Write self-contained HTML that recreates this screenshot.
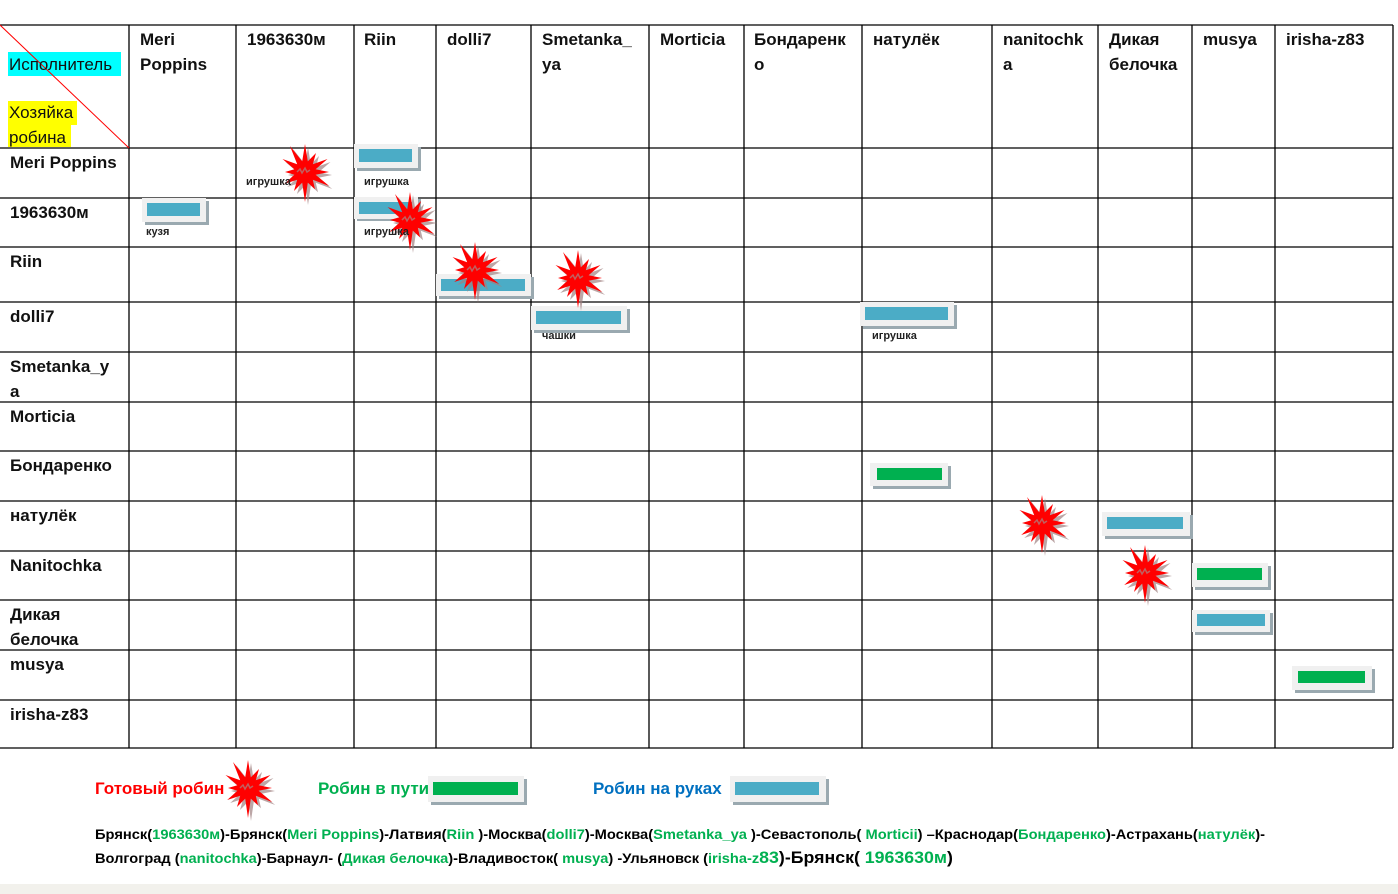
<!DOCTYPE html>
<html><head><meta charset="utf-8"><style>
body{margin:0;width:1398px;height:894px;background:#fff;overflow:hidden;position:relative;font-family:"Liberation Sans",sans-serif}
.t{position:absolute;font-weight:bold;font-size:17px;line-height:25px;color:#111}
.s{position:absolute;font-weight:bold;font-size:11px;color:#222}
</style></head><body>
<div style="position:absolute;left:0;top:884px;width:1398px;height:10px;background:#f2f1ec"></div>
<svg width="1398" height="894" style="position:absolute;left:0;top:0">
<defs>
<g id="st"><polygon transform="translate(3,3)" fill="#a08080" opacity="0.7" points="0,-28 2.8,-10.6 11,-19 7.8,-7.8 22.5,-13 10.6,-2.8 24,0 10.6,2.8 24.2,14 7.8,7.8 10,17.3 2.8,10.6 0,30 -2.8,10.6 -11,19 -7.8,7.8 -20.8,12 -10.6,2.8 -20,0 -10.6,-2.8 -22.5,-13 -7.8,-7.8 -15,-26 -2.8,-10.6"/><polygon fill="#ff0000" points="0,-28 2.8,-10.6 11,-19 7.8,-7.8 22.5,-13 10.6,-2.8 24,0 10.6,2.8 24.2,14 7.8,7.8 10,17.3 2.8,10.6 0,30 -2.8,10.6 -11,19 -7.8,7.8 -20.8,12 -10.6,2.8 -20,0 -10.6,-2.8 -22.5,-13 -7.8,-7.8 -15,-26 -2.8,-10.6"/><path d="M-8,0 l3,-3 2,4 3,-5 2,4 3,-2" stroke="#c06060" fill="none" stroke-width="1.5"/></g>
</defs>
<g stroke="#000" stroke-width="1.3">
<line x1="0" y1="25" x2="1393" y2="25"/>
<line x1="0" y1="148" x2="1393" y2="148"/><line x1="0" y1="198" x2="1393" y2="198"/><line x1="0" y1="247" x2="1393" y2="247"/><line x1="0" y1="302" x2="1393" y2="302"/><line x1="0" y1="352" x2="1393" y2="352"/><line x1="0" y1="402" x2="1393" y2="402"/><line x1="0" y1="451" x2="1393" y2="451"/><line x1="0" y1="501" x2="1393" y2="501"/><line x1="0" y1="551" x2="1393" y2="551"/><line x1="0" y1="600" x2="1393" y2="600"/><line x1="0" y1="650" x2="1393" y2="650"/><line x1="0" y1="700" x2="1393" y2="700"/><line x1="0" y1="748" x2="1393" y2="748"/>
<line x1="129" y1="25" x2="129" y2="748"/><line x1="236" y1="25" x2="236" y2="748"/><line x1="354" y1="25" x2="354" y2="748"/><line x1="436" y1="25" x2="436" y2="748"/><line x1="531" y1="25" x2="531" y2="748"/><line x1="649" y1="25" x2="649" y2="748"/><line x1="744" y1="25" x2="744" y2="748"/><line x1="862" y1="25" x2="862" y2="748"/><line x1="992" y1="25" x2="992" y2="748"/><line x1="1098" y1="25" x2="1098" y2="748"/><line x1="1192" y1="25" x2="1192" y2="748"/><line x1="1275" y1="25" x2="1275" y2="748"/><line x1="1393" y1="25" x2="1393" y2="748"/>
</g>
<rect x="8" y="52" width="113" height="24" fill="#00ffff"/>
<rect x="8" y="101" width="69" height="24" fill="#ffff00"/><rect x="8" y="125" width="63" height="22" fill="#ffff00"/>
<line x1="0" y1="25" x2="129" y2="148" stroke="#ff0000" stroke-width="1"/>
<!-- bars -->
<g>
<rect x="357" y="147" width="64" height="24" fill="#9aa9b0"/><rect x="354" y="144" width="64" height="24" fill="#f0f0f0"/><rect x="359" y="149" width="53" height="13" fill="#4bacc6"/>
<rect x="145" y="201" width="64" height="24" fill="#9aa9b0"/><rect x="142" y="198" width="64" height="24" fill="#f0f0f0"/><rect x="147" y="203" width="53" height="13" fill="#4bacc6"/>
<rect x="357" y="199" width="64" height="22" fill="#9aa9b0"/><rect x="354" y="197" width="64" height="22" fill="#f0f0f0"/><rect x="359" y="202" width="53" height="12" fill="#4bacc6"/>
<rect x="439" y="277" width="95" height="22" fill="#9aa9b0"/><rect x="436" y="274" width="95" height="22" fill="#f0f0f0"/><rect x="441" y="279" width="84" height="12" fill="#4bacc6"/>
<rect x="534" y="309" width="96" height="24" fill="#9aa9b0"/><rect x="531" y="306" width="96" height="24" fill="#f0f0f0"/><rect x="536" y="311" width="85" height="13" fill="#4bacc6"/>
<rect x="863" y="305" width="94" height="24" fill="#9aa9b0"/><rect x="860" y="302" width="94" height="24" fill="#f0f0f0"/><rect x="865" y="307" width="83" height="13" fill="#4bacc6"/>
<rect x="873" y="466" width="78" height="23" fill="#9aa9b0"/><rect x="870" y="463" width="78" height="23" fill="#f0f0f0"/><rect x="877" y="468" width="65" height="12" fill="#00b050"/>
<rect x="1105" y="515" width="88" height="24" fill="#9aa9b0"/><rect x="1102" y="512" width="88" height="24" fill="#f0f0f0"/><rect x="1107" y="517" width="76" height="12" fill="#4bacc6"/>
<rect x="1195" y="566" width="76" height="24" fill="#9aa9b0"/><rect x="1192" y="563" width="76" height="24" fill="#f0f0f0"/><rect x="1197" y="568" width="65" height="12" fill="#00b050"/>
<rect x="1195" y="613" width="78" height="22" fill="#9aa9b0"/><rect x="1192" y="610" width="78" height="22" fill="#f0f0f0"/><rect x="1197" y="614" width="68" height="12" fill="#4bacc6"/>
<rect x="1295" y="669" width="80" height="24" fill="#9aa9b0"/><rect x="1292" y="666" width="80" height="24" fill="#f0f0f0"/><rect x="1298" y="671" width="67" height="12" fill="#00b050"/>
<rect x="431" y="779" width="96" height="26" fill="#9aa9b0"/><rect x="428" y="776" width="96" height="26" fill="#f0f0f0"/><rect x="433" y="782" width="85" height="13" fill="#00b050"/>
<rect x="733" y="779" width="96" height="26" fill="#9aa9b0"/><rect x="730" y="776" width="96" height="26" fill="#f0f0f0"/><rect x="735" y="782" width="84" height="13" fill="#4bacc6"/>
</g>
<use href="#st" x="305" y="172"/><use href="#st" x="410" y="220"/><use href="#st" x="475" y="270"/><use href="#st" x="578" y="278"/><use href="#st" x="1042" y="523"/><use href="#st" x="1145" y="573"/><use href="#st" x="248" y="788"/>
<g font-family="Liberation Sans,sans-serif" font-weight="bold" font-size="14">
<text x="95" y="839" textLength="1170" lengthAdjust="spacingAndGlyphs">Брянск(<tspan fill="#00b050">1963630м</tspan>)-Брянск(<tspan fill="#00b050">Meri Poppins</tspan>)-Латвия(<tspan fill="#00b050">Riin </tspan>)-Москва(<tspan fill="#00b050">dolli7</tspan>)-Москва(<tspan fill="#00b050">Smetanka_ya </tspan>)-Севастополь( <tspan fill="#00b050">Morticii</tspan>) –Краснодар(<tspan fill="#00b050">Бондаренко</tspan>)-Астрахань(<tspan fill="#00b050">натулёк</tspan>)-</text>
<text x="95" y="863" textLength="858" lengthAdjust="spacingAndGlyphs">Волгоград (<tspan fill="#00b050">nanitochka</tspan>)-Барнаул- (<tspan fill="#00b050">Дикая белочка</tspan>)-Владивосток( <tspan fill="#00b050">musya</tspan>) -Ульяновск (<tspan fill="#00b050">irisha-z<tspan font-size="17">83</tspan></tspan><tspan font-size="17">)-Брянск( <tspan fill="#00b050">1963630м</tspan>)</tspan></text>
</g>
</svg>
<div class="t" style="left:9px;top:52px;font-weight:normal">Исполнитель</div>
<div class="t" style="left:9px;top:100px;font-weight:normal">Хозяйка<br>робина</div>
<div class="t" style="left:140px;top:27px">Meri<br>Poppins</div>
<div class="t" style="left:247px;top:27px">1963630м</div>
<div class="t" style="left:364px;top:27px">Riin</div>
<div class="t" style="left:447px;top:27px">dolli7</div>
<div class="t" style="left:542px;top:27px">Smetanka_<br>ya</div>
<div class="t" style="left:660px;top:27px">Morticia</div>
<div class="t" style="left:754px;top:27px">Бондаренк<br>о</div>
<div class="t" style="left:873px;top:27px">натулёк</div>
<div class="t" style="left:1003px;top:27px">nanitochk<br>a</div>
<div class="t" style="left:1109px;top:27px">Дикая<br>белочка</div>
<div class="t" style="left:1203px;top:27px">musya</div>
<div class="t" style="left:1286px;top:27px">irisha-z83</div>
<div class="t" style="left:10px;top:150px">Meri Poppins</div>
<div class="t" style="left:10px;top:200px">1963630м</div>
<div class="t" style="left:10px;top:249px">Riin</div>
<div class="t" style="left:10px;top:304px">dolli7</div>
<div class="t" style="left:10px;top:354px">Smetanka_y<br>a</div>
<div class="t" style="left:10px;top:404px">Morticia</div>
<div class="t" style="left:10px;top:453px">Бондаренко</div>
<div class="t" style="left:10px;top:503px">натулёк</div>
<div class="t" style="left:10px;top:553px">Nanitochka</div>
<div class="t" style="left:10px;top:602px">Дикая<br>белочка</div>
<div class="t" style="left:10px;top:652px">musya</div>
<div class="t" style="left:10px;top:702px">irisha-z83</div>
<div class="s" style="left:246px;top:176px">игрушка</div>
<div class="s" style="left:364px;top:176px">игрушка</div>
<div class="s" style="left:146px;top:226px">кузя</div>
<div class="s" style="left:364px;top:226px">игрушка</div>
<div class="s" style="left:542px;top:330px">чашки</div>
<div class="s" style="left:872px;top:330px">игрушка</div>
<div class="t" style="left:95px;top:776px;color:#ff0000">Готовый робин</div>
<div class="t" style="left:318px;top:776px;color:#00b050">Робин в пути</div>
<div class="t" style="left:593px;top:776px;color:#0070c0">Робин на руках</div>
</body></html>
